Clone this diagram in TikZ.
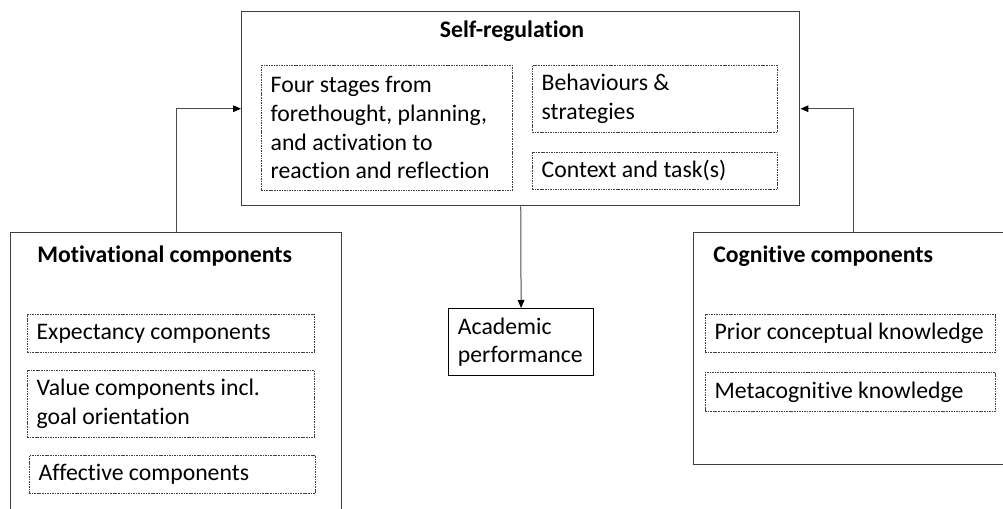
\documentclass[tikz,border=0pt]{standalone}
\usepackage{fontspec}
\setmainfont[Ligatures=NoCommon]{Carlito}
\usetikzlibrary{arrows.meta}

\begin{document}
\begin{tikzpicture}[x=0.75pt, y=-0.75pt,
  every node/.style={font=\fontsize{17.8}{21.5}\selectfont, text=black},
  outbox/.style={draw=black!75, line width=1.1pt, anchor=north west, inner sep=0pt},
  inbox/.style={draw=black!75, line width=0.5pt, dash pattern=on 1.2pt off 0.7pt,
    anchor=north west, align=flush left, inner xsep=7pt, inner ysep=0pt},
  title/.style={font=\fontsize{17.8}{21.5}\selectfont\bfseries, inner sep=0pt},
  conn/.style={draw=black!70, line width=0.75pt, -{Triangle[length=6pt, width=5pt, color=black]}}]
  \useasboundingbox (0,0) rectangle (1003,509);
  \clip (0,0) rectangle (1003,509);
  % Self-regulation oben
  \node[outbox, minimum width=418.5pt, minimum height=145.5pt] (selfreg) at (241,11) {};
  \node[title, anchor=base] (selfregt) at (512,38) {Self-regulation};
  \node[inbox, text width=174.25pt, minimum height=93.75pt] (stages) at (261,65)
    {Four stages from\\forethought, planning,\\and activation to\\reaction and reflection};
  \node[inbox, text width=169.75pt, minimum height=50.25pt] (behav) at (532,65)
    {Behaviours \&\\strategies};
  \node[inbox, text width=169.75pt, minimum height=27.75pt] (context) at (532,152)
    {Context and task(s)};
  % Academic performance Mitte
  \node[outbox, draw=black, line width=0.9pt, align=flush left, inner xsep=7pt,
    text width=94.75pt, minimum height=50.25pt] (acad) at (448,308)
    {Academic\\performance};
  % Motivational components links
  \node[outbox, minimum width=248.25pt, minimum height=217.5pt] (motiv) at (10,232) {};
  \node[title, anchor=base west] (motivt) at (37,263) {Motivational components};
  \node[inbox, text width=201.25pt, minimum height=28.5pt] (expect) at (27,314)
    {Expectancy components};
  \node[inbox, text width=201.25pt, minimum height=50.25pt] (value) at (27,370)
    {Value components incl.\\goal orientation};
  \node[inbox, text width=200.5pt, minimum height=28.5pt] (affect) at (29,455)
    {Affective components};
  % Cognitive components rechts
  \node[outbox, minimum width=240pt, minimum height=174pt] (cog) at (693,232) {};
  \node[title, anchor=base west] (cogt) at (713,263) {Cognitive components};
  \node[inbox, text width=203.5pt, minimum height=28.5pt] (prior) at (705,314)
    {Prior conceptual knowledge};
  \node[inbox, text width=203.5pt, minimum height=29.25pt] (meta) at (705,372)
    {Metacognitive knowledge};
  % Pfeile
  \draw[conn] (motiv.north) |- (selfreg.west);
  \draw[conn] (cog.north) |- (selfreg.east);
  \draw[conn] (selfreg.south) -- (acad.north);
\end{tikzpicture}
\end{document}
